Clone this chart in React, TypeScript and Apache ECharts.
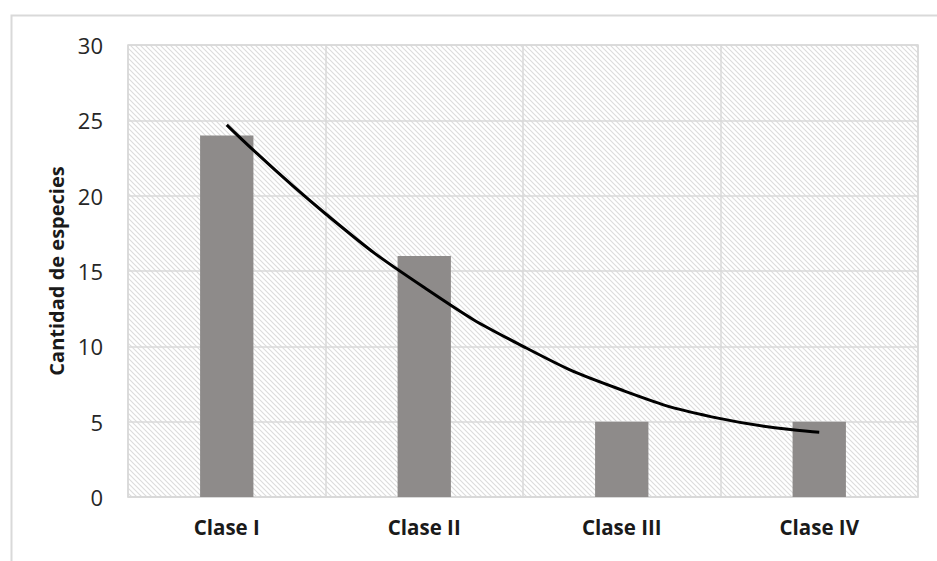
import React, { useEffect, useRef } from "react";
import * as echarts from "echarts";

const categories = ["Clase I", "Clase II", "Clase III", "Clase IV"];
const speciesCount = [24, 16, 5, 5];
// trend curve at category positions (1 = Clase I ... 4 = Clase IV)
const trendX = [1, 1.5, 2, 2.5, 3, 3.5, 4];
const trendY = [24.7, 18.8, 13.9, 10.0, 7.1, 5.2, 4.3];
const yAxisName = "Cantidad de especies";

const hatchSvg =
  "<svg xmlns='http://www.w3.org/2000/svg' width='5' height='5'>" +
  "<rect width='5' height='5' fill='#ffffff'/>" +
  "<path d='M0,0 L5,5 M-1,4 L1,6 M4,-1 L6,1' stroke='#dcdcdc' stroke-width='1.1'/>" +
  "</svg>";
const hatchUrl = "data:image/svg+xml;charset=utf-8," + encodeURIComponent(hatchSvg);

export default function App() {
  const ref = useRef<HTMLDivElement>(null);
  useEffect(() => {
    document.body.style.margin = "0";
    const chart = echarts.init(ref.current!, undefined, { renderer: "svg" });
    const font = "'Open Sans', sans-serif";
    chart.setOption({
      animation: false,
      backgroundColor: "#ffffff",
      graphic: [
        {
          type: "rect",
          left: 9,
          top: 13,
          shape: { width: 1200, height: 1200 },
          style: { fill: "none", stroke: "#d9d9d9", lineWidth: 2 },
          silent: true,
          z: -1,
        },
      ],
      grid: {
        left: 128,
        top: 45,
        right: 19,
        bottom: 64,
        show: true,
        borderColor: "#d9d9d9",
        borderWidth: 1.5,
        backgroundColor: { image: hatchUrl, repeat: "repeat" },
      },
      xAxis: [
        {
          type: "category",
          data: categories,
          boundaryGap: true,
          axisLine: { show: true, lineStyle: { color: "#d9d9d9", width: 1.5 } },
          axisTick: { show: false },
          splitLine: { show: true, lineStyle: { color: "#d9d9d9", width: 1.5 } },
          axisLabel: {
            fontFamily: font,
            fontSize: 20.5,
            fontWeight: "bold",
            color: "#1a1a1a",
            margin: 19,
          },
        },
        {
          type: "value",
          min: 0.5,
          max: 4.5,
          show: false,
        },
      ],
      yAxis: {
        type: "value",
        min: 0,
        max: 30,
        interval: 5,
        name: yAxisName,
        nameLocation: "middle",
        nameGap: 58,
        nameTextStyle: {
          fontFamily: font,
          fontSize: 20,
          fontWeight: "bold",
          color: "#1a1a1a",
        },
        axisLine: { show: false },
        axisTick: { show: false },
        splitLine: { show: true, lineStyle: { color: "#d9d9d9", width: 1.5 } },
        axisLabel: {
          fontFamily: font,
          fontSize: 22,
          color: "#262626",
          margin: 25,
        },
      },
      series: [
        {
          type: "bar",
          data: speciesCount,
          barWidth: "27%",
          itemStyle: { color: "#8e8b8a" },
          z: 2,
        },
        {
          type: "line",
          xAxisIndex: 1,
          data: trendX.map((x, i) => [x, trendY[i]]),
          smooth: true,
          symbol: "none",
          lineStyle: { color: "#000000", width: 3 },
          z: 3,
        },
      ],
    });
    return () => chart.dispose();
  }, []);
  return (
    <div
      ref={ref}
      style={{ position: "absolute", left: 0, top: 0, width: 937, height: 561 }}
    />
  );
}
